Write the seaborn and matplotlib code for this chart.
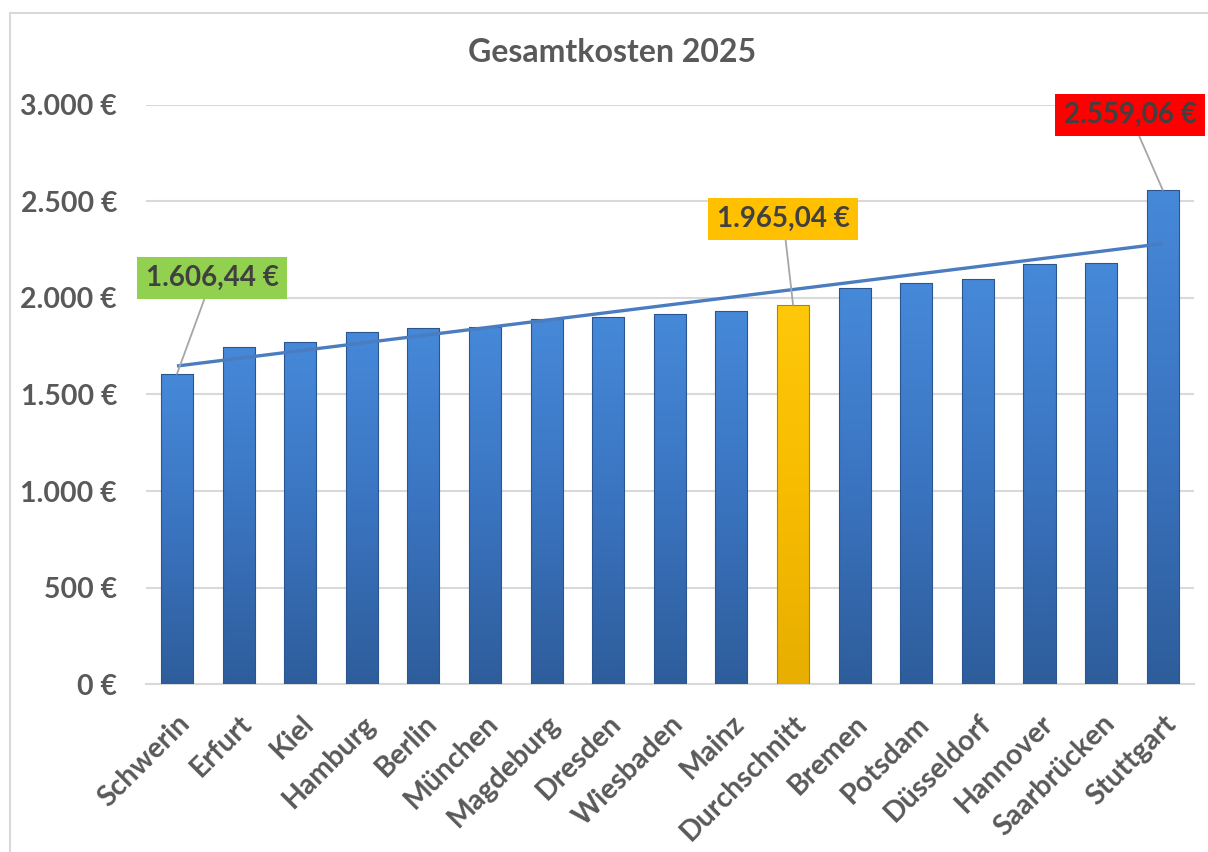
import numpy as np
import pandas as pd
import matplotlib
matplotlib.use('Agg')
import matplotlib.pyplot as plt
import seaborn as sns
from matplotlib.colors import LinearSegmentedColormap
from matplotlib.patches import Rectangle

# data
cities = ['Schwerin', 'Erfurt', 'Kiel', 'Hamburg', 'Berlin', 'München', 'Magdeburg',
          'Dresden', 'Wiesbaden', 'Mainz', 'Durchschnitt', 'Bremen', 'Potsdam',
          'Düsseldorf', 'Hannover', 'Saarbrücken', 'Stuttgart']
kosten = [1606.44, 1747.6, 1770.4, 1825.4, 1842.9, 1851.3, 1889.5,
          1901.4, 1918.6, 1934.1, 1965.04, 2050.1, 2076.0,
          2098.3, 2176.0, 2179.7, 2559.06]
y_ticks = [0, 500, 1000, 1500, 2000, 2500, 3000]
# highlighted bars: (city, label, box colour, label position in data units)
callouts = [('Schwerin', '1.606,44 €', '#92d050', 0.57, 2103),
            ('Durchschnitt', '1.965,04 €', '#ffc000', 9.84, 2409),
            ('Stuttgart', '2.559,06 €', '#ff0000', 15.47, 2947)]

df = pd.DataFrame({'Stadt': cities, 'Kosten': kosten})

sns.set_theme(style='white')
plt.rcParams['font.family'] = ['Lato', 'DejaVu Sans']
plt.rcParams['font.weight'] = 'bold'
text_grey = '#595959'

fig = plt.figure(figsize=(12.08, 8.52), dpi=100)
ax = fig.add_axes([0.121, 0.197, 0.867, 0.680])

palette = ['#ffc000' if c == 'Durchschnitt' else '#3c76c4' for c in cities]
sns.barplot(data=df, x='Stadt', y='Kosten', hue='Stadt', palette=palette,
            legend=False, width=0.52, ax=ax, edgecolor='none', zorder=2)

# vertical gradient on each bar (Excel style)
blue_cm = LinearSegmentedColormap.from_list('b', ['#2e5d9b', '#3a74c0', '#4689d9'])
gold_cm = LinearSegmentedColormap.from_list('g', ['#e8ae00', '#f7bc00', '#ffc80a'])
grad = np.linspace(0, 1, 256).reshape(-1, 1)
for patch, city in zip(ax.patches, cities):
    x0, y0 = patch.get_x(), patch.get_y()
    w, h = patch.get_width(), patch.get_height()
    cm = gold_cm if city == 'Durchschnitt' else blue_cm
    im = ax.imshow(grad, cmap=cm, aspect='auto', origin='lower',
                   extent=(x0, x0 + w, y0, y0 + h), zorder=3)
    im.set_clip_path(patch)
    edge = '#b08600' if city == 'Durchschnitt' else '#2a5590'
    ax.add_patch(Rectangle((x0, y0), w, h, fill=False, edgecolor=edge, lw=0.8, zorder=4))

# linear trend line
xs = np.arange(len(cities))
slope, icpt = np.polyfit(xs, kosten, 1)
ax.plot(xs, slope * xs + icpt, color='#4a7cc0', lw=2.4, zorder=5, solid_capstyle='butt')

# callout labels
for city, lab, col, tx, ty in callouts:
    i = cities.index(city)
    ax.annotate(lab, xy=(i, kosten[i]), xytext=(tx, ty), ha='center', va='center',
                fontsize=20, fontweight='bold', color='#404040', zorder=6,
                annotation_clip=False,
                bbox=dict(boxstyle='square,pad=0.3', fc=col, ec='none'),
                arrowprops=dict(arrowstyle='-', color='#a6a6a6', lw=1.3,
                                shrinkA=0, shrinkB=0))

ax.set_xlim(-0.5, len(cities) - 0.5)
ax.set_ylim(0, 3000)
ax.set_yticks(y_ticks)
ax.set_yticklabels([f'{v:,.0f} €'.replace(',', '.') for v in y_ticks],
                   fontsize=20.5, fontweight='bold', color=text_grey)
ax.set_xticks(xs)
ax.set_xticklabels(cities, rotation=45, ha='right', rotation_mode='anchor',
                   fontsize=20.5, fontweight='bold', color=text_grey)
ax.tick_params(axis='y', length=0, pad=21)
ax.tick_params(axis='x', length=0, pad=19)
ax.set_xlabel('')
ax.set_ylabel('')
ax.yaxis.grid(True, color='#d9d9d9', lw=1.5, zorder=0)
ax.set_axisbelow(True)
for s in ['top', 'right', 'left']:
    ax.spines[s].set_visible(False)
ax.spines['bottom'].set_color('#d9d9d9')
ax.spines['bottom'].set_linewidth(1.5)

fig.text(0.507, 0.938, 'Gesamtkosten 2025', ha='center', va='center',
         fontsize=23, fontweight='bold', color=text_grey)

# chart frame
fig.add_artist(Rectangle((10 / 1208, -0.05), 1.2, 1 - 13 / 852 + 0.05,
                         transform=fig.transFigure, fill=False,
                         edgecolor='#d9d9d9', lw=1.5))

fig.savefig('out.png', dpi=100)
